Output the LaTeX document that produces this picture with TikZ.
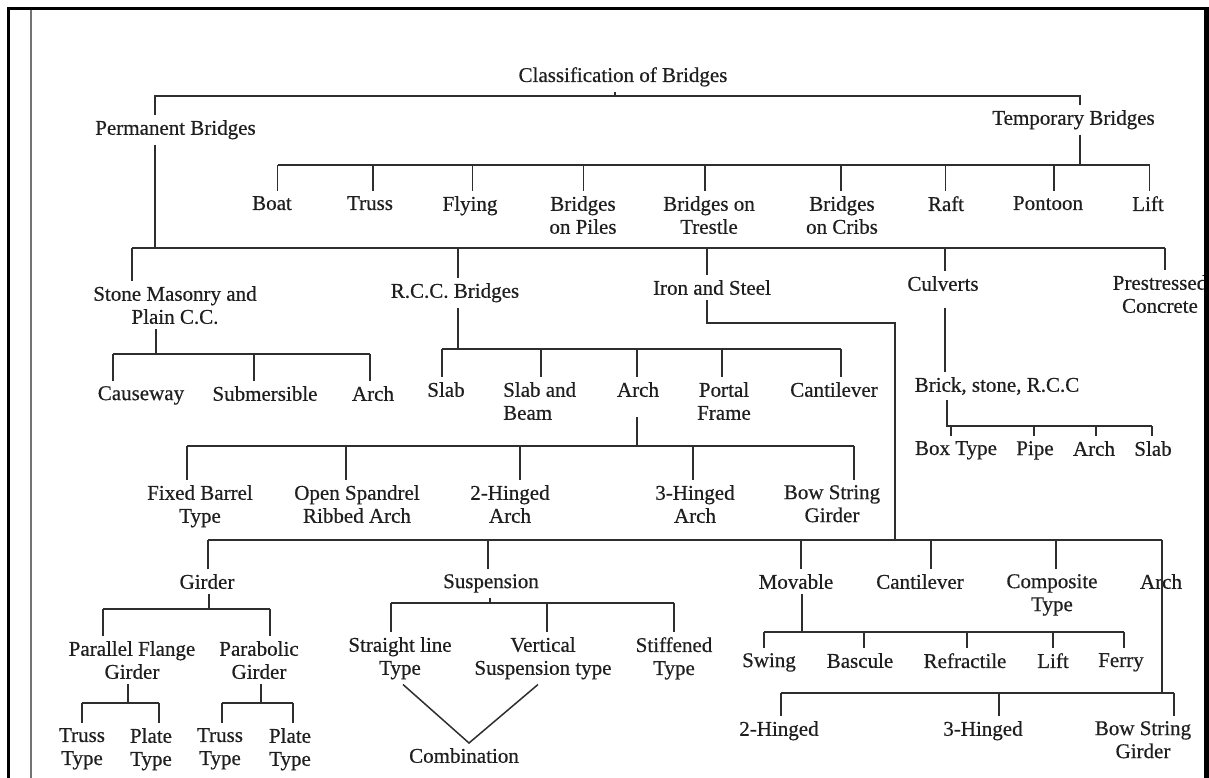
\documentclass[tikz,border=0pt]{standalone}
\usepackage{fontspec}
\setmainfont{Liberation Serif}[FakeBold=0.5]
\usetikzlibrary{calc}
\begin{document}
\begin{tikzpicture}[x=1bp,y=-1bp,
  lbl/.style={font=\fontsize{21bp}{23bp}\selectfont, inner xsep=1bp, inner ysep=5bp, align=center, anchor=north, text=black!88},
  ln/.style={line width=1.5bp, draw=black!82}]
\useasboundingbox (0,0) rectangle (1209,778);
\fill[white] (0,0) rectangle (1209,778);
% ---------- nodes ----------
\node[lbl] (title) at (623,62) {Classification of Bridges};
\node[lbl] (perm) at (175.5,115) {Permanent Bridges};
\node[lbl] (temp) at (1073.5,105) {Temporary Bridges};
% temporary children
\node[lbl] (boat) at (272,191) {Boat};
\node[lbl] (truss) at (370,191) {Truss};
\node[lbl] (flying) at (470,191) {Flying};
\node[lbl] (piles) at (583,191) {Bridges\\on Piles};
\node[lbl] (trestle) at (709,191) {Bridges on\\Trestle};
\node[lbl] (cribs) at (842,191) {Bridges\\on Cribs};
\node[lbl] (raft) at (946,191) {Raft};
\node[lbl] (pontoon) at (1048,191) {Pontoon};
\node[lbl] (tlift) at (1148,191) {Lift};
% permanent children
\node[lbl] (stone) at (175,281) {Stone Masonry and\\Plain C.C.};
\node[lbl] (rcc) at (455,278) {R.C.C. Bridges};
\node[lbl] (iron) at (712,275) {Iron and Steel};
\node[lbl] (culv) at (943,271) {Culverts};
\node[lbl] (pres) at (1160,270) {Prestressed\\Concrete};
% stone children
\node[lbl] (cause) at (141,381) {Causeway};
\node[lbl] (subm) at (265,381) {Submersible};
\node[lbl] (sarch) at (373,381) {Arch};
% rcc children
\node[lbl] (slab) at (446,377) {Slab};
\node[lbl, anchor=north west, align=left] (slabbeam) at (502,377) {Slab and\\Beam};
\node[lbl] (rarch) at (638,377) {Arch};
\node[lbl] (portal) at (724,377) {Portal\\Frame};
\node[lbl] (rcant) at (834,377) {Cantilever};
% rcc arch children
\node[lbl] (fixed) at (200,480) {Fixed Barrel\\Type};
\node[lbl] (open) at (357,480) {Open Spandrel\\Ribbed Arch};
\node[lbl] (hinge2) at (510,480) {2-Hinged\\Arch};
\node[lbl] (hinge3) at (695,480) {3-Hinged\\Arch};
\node[lbl] (bowstr) at (832,480) {Bow String\\Girder};
% culverts
\node[lbl] (brick) at (997,372) {Brick, stone, R.C.C};
\node[lbl] (box) at (956,436) {Box Type};
\node[lbl] (pipe) at (1035,436) {Pipe};
\node[lbl] (carch) at (1094,436) {Arch};
\node[lbl] (cslab) at (1153,436) {Slab};
% iron children
\node[lbl] (girder) at (207,569) {Girder};
\node[lbl] (susp) at (491,569) {Suspension};
\node[lbl] (movable) at (796,569) {Movable};
\node[lbl] (icant) at (920,569) {Cantilever};
\node[lbl] (comp) at (1052,569) {Composite\\Type};
\node[lbl] (iarch) at (1161,569) {Arch};
% girder children
\node[lbl] (pflange) at (132,636) {Parallel Flange\\Girder};
\node[lbl] (parab) at (259,636) {Parabolic\\Girder};
\node[lbl] (truss1) at (82,723) {Truss\\Type};
\node[lbl] (plate1) at (151,723) {Plate\\Type};
\node[lbl] (truss2) at (220,723) {Truss\\Type};
\node[lbl] (plate2) at (290,723) {Plate\\Type};
% suspension children
\node[lbl] (straight) at (400,632) {Straight line\\Type};
\node[lbl] (vert) at (543,632) {Vertical\\Suspension type};
\node[lbl] (stiff) at (674,632) {Stiffened\\Type};
\node[lbl] (comb) at (464,743) {Combination};
% movable children
\node[lbl] (swing) at (769,648) {Swing};
\node[lbl] (bascule) at (860,648) {Bascule};
\node[lbl] (refr) at (965,648) {Refractile};
\node[lbl] (mlift) at (1053,648) {Lift};
\node[lbl] (ferry) at (1121,648) {Ferry};
% iron arch children
\node[lbl] (ih2) at (779,716) {2-Hinged};
\node[lbl] (ih3) at (983,716) {3-Hinged};
\node[lbl] (ibow) at (1143,716) {Bow String\\Girder};
% ---------- connectors ----------
\draw[ln] (615,0 |- title.south) -- (615,96);
\draw[ln] (155,0 |- perm.north) -- (155,96) -- (1080,96) -- (1080,0 |- temp.north);
\draw[ln] (155,0 |- perm.south) -- (155,248);
\draw[ln] (1080,0 |- temp.south) -- (1080,165);
\draw[ln] (277.5,165) -- (1149.5,165);
\foreach \n/\x in {boat/277.5, truss/373, flying/472.6, piles/583.6, trestle/705, cribs/841, raft/945.6, pontoon/1054, tlift/1149.5}
  \draw[ln] (\x,165) -- (\x,0 |- \n.north);
% permanent bus
\draw[ln] (132,248) -- (1165,248);
\foreach \n/\x in {stone/132, rcc/458, iron/707, culv/945, pres/1165}
  \draw[ln] (\x,248) -- (\x,0 |- \n.north);
% stone
\draw[ln] (156,0 |- stone.south) -- (156,354);
\draw[ln] (113,354) -- (370,354);
\foreach \n/\x in {cause/113, subm/254, sarch/370}
  \draw[ln] (\x,354) -- (\x,0 |- \n.north);
% rcc
\draw[ln] (458,0 |- rcc.south) -- (458,349);
\draw[ln] (442,349) -- (841,349);
\foreach \n/\x in {slab/442, slabbeam/541, rarch/637, portal/722, rcant/841}
  \draw[ln] (\x,349) -- (\x,0 |- \n.north);
% rcc arch
\draw[ln] ($(rarch.south)+(-1,15)$) -- (637,446);
\draw[ln] (187,446) -- (854,446);
\foreach \n/\x in {fixed/187, open/346, hinge2/520, hinge3/693, bowstr/854}
  \draw[ln] (\x,446) -- (\x,0 |- \n.north);
% culverts
\draw[ln] ($(945,0 |- culv.south)+(0,12)$) -- (945,0 |- brick.north);
\draw[ln] (947,0 |- brick.south) -- (947,426) -- (1152,426);
\foreach \n/\x in {box/951, pipe/1034, carch/1096, cslab/1152}
  \draw[ln] (\x,426) -- (\x,0 |- \n.north);
% iron and steel
\draw[ln] (707,0 |- iron.south) -- (707,323) -- (895,323) -- (895,540);
\draw[ln] (208,540) -- (1162,540);
\foreach \n/\x in {girder/208, susp/488, movable/801, icant/931, comp/1056}
  \draw[ln] (\x,540) -- (\x,0 |- \n.north);
\draw[ln] (1162,540) -- (1162,693);
\draw[ln] (781,693) -- (1174,693);
\foreach \n/\x in {ih2/781, ih3/999, ibow/1174}
  \draw[ln] (\x,693) -- (\x,0 |- \n.north);
% girder
\draw[ln] (209,0 |- girder.south) -- (209,609);
\draw[ln] (103,609) -- (270,609);
\foreach \n/\x in {pflange/103, parab/270}
  \draw[ln] (\x,609) -- (\x,0 |- \n.north);
\draw[ln] (128,0 |- pflange.south) -- (128,703);
\draw[ln] (82,703) -- (159,703);
\foreach \n/\x in {truss1/82, plate1/159}
  \draw[ln] (\x,703) -- (\x,0 |- \n.north);
\draw[ln] (261,0 |- parab.south) -- (261,703);
\draw[ln] (222,703) -- (293,703);
\foreach \n/\x in {truss2/222, plate2/293}
  \draw[ln] (\x,703) -- (\x,0 |- \n.north);
% suspension
\draw[ln] (490,0 |- susp.south) -- (490,603);
\draw[ln] (391,603) -- (674,603);
\foreach \n/\x in {straight/391, vert/547, stiff/674}
  \draw[ln] (\x,603) -- (\x,0 |- \n.north);
\draw[ln] (403,0 |- straight.south) -- (469,0 |- comb.north) -- (538,0 |- vert.south);
% movable
\draw[ln] (802,0 |- movable.south) -- (802,632);
\draw[ln] (764,632) -- (1124,632);
\foreach \n/\x in {swing/764, bascule/864, refr/967, mlift/1053, ferry/1124}
  \draw[ln] (\x,632) -- (\x,0 |- \n.north);
% ---------- frame ----------
\fill[black] (7,7) rectangle (1209,10);
\fill[black] (7,7) rectangle (9.5,778);
\fill[black] (1204,7) rectangle (1209,778);
\draw[black!55, line width=1.2bp] (31,10) -- (31,778);
\end{tikzpicture}
\end{document}
